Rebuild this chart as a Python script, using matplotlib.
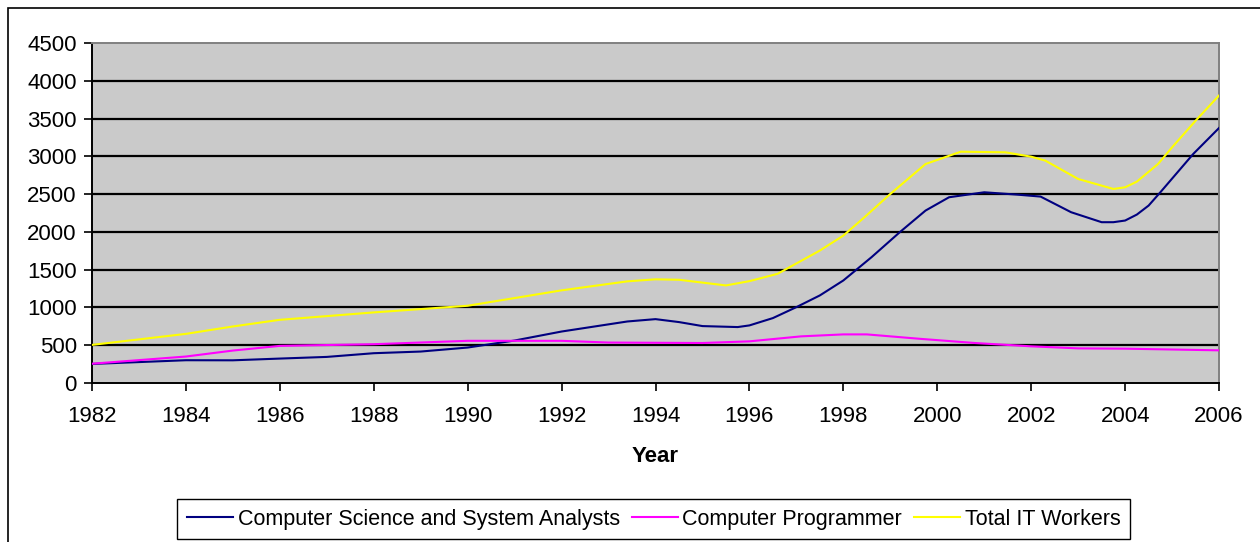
import matplotlib
matplotlib.use("Agg")
import matplotlib.pyplot as plt
from matplotlib.patches import Rectangle

# ---------------------------------------------------------------------------
# Data
# ---------------------------------------------------------------------------
analyst_years = [1982, 1984, 1985, 1986, 1987, 1988, 1989, 1990, 1991, 1992,
                 1993.4, 1994, 1994.5, 1995, 1995.75, 1996, 1996.5, 1997,
                 1997.5, 1998, 1998.6, 1999.2, 1999.75, 2000.25, 2001,
                 2001.7, 2002.2, 2002.85, 2003.5, 2003.75, 2004, 2004.25,
                 2004.5, 2004.75, 2005.45, 2006]
analyst_vals = [252, 301, 300, 323, 345, 394, 416, 469, 562, 681,
                814, 845, 806, 753, 740, 762, 859, 1004,
                1159, 1357, 1665, 1995, 2282, 2458, 2524,
                2493, 2467, 2260, 2128, 2128, 2150, 2229,
                2348, 2524, 3031, 3375]

programmer_years = [1982, 1984, 1985, 1986, 1988, 1990, 1992, 1993, 1994,
                    1995, 1996, 1997.1, 1998, 1998.5, 1999.6, 2000.8, 2002,
                    2003, 2004, 2006]
programmer_vals = [255, 350, 429, 491, 513, 558, 558, 535, 532,
                   529, 551, 617, 643, 643, 586, 529, 485,
                   458, 454, 432]

total_years = [1982, 1984, 1985, 1986, 1988, 1990, 1991, 1992, 1993.4, 1994,
               1994.5, 1995.5, 1996, 1996.6, 1997.5, 1998, 1998.45, 1999,
               1999.75, 2000.5, 2001.45, 2002, 2002.3, 2003, 2003.75, 2004,
               2004.25, 2004.7, 2005, 2005.5, 2006]
total_vals = [504, 650, 748, 836, 934, 1022, 1124, 1226, 1345, 1372,
              1366, 1291, 1348, 1445, 1753, 1951, 2194, 2502,
              2898, 3061, 3053, 2995, 2943, 2700, 2568, 2590,
              2665, 2898, 3119, 3471, 3805]

series_labels = ["Computer Science and System Analysts",
                 "Computer Programmer",
                 "Total IT Workers"]
x_ticks = list(range(1982, 2007, 2))
y_ticks = list(range(0, 4501, 500))

TICK_SIZE = 16
LEGEND_SIZE = 15.5

# ---------------------------------------------------------------------------
# Figure
# ---------------------------------------------------------------------------
plt.rcParams["font.family"] = ["Liberation Sans", "DejaVu Sans"]

fig = plt.figure(figsize=(12.6, 5.42), dpi=100)
ax = fig.add_axes([0.073, 0.2934, 0.8945, 0.6273])
ax.set_facecolor("#CACACA")

# outer chart frame (only left + top edges fall inside the image)
fig.patches.append(Rectangle((8 / 1260, -0.05), 1.2, 1 - 8 / 542 + 0.05,
                             transform=fig.transFigure, fill=False,
                             edgecolor="black", lw=1.2))

for yv in y_ticks[1:-1]:
    ax.axhline(yv, color="black", lw=1.6, zorder=1)

ax.plot(analyst_years, analyst_vals, color="#000080", lw=1.5,
        label=series_labels[0], zorder=3)
ax.plot(programmer_years, programmer_vals, color="#FF00FF", lw=1.5,
        label=series_labels[1], zorder=3)
ax.plot(total_years, total_vals, color="#FFFF00", lw=1.5,
        label=series_labels[2], zorder=3)

ax.set_xlim(1982, 2006)
ax.set_ylim(0, 4500)
ax.set_xticks(x_ticks)
ax.set_yticks(y_ticks)
ax.tick_params(axis="both", direction="out", length=6, width=1.2,
               labelsize=TICK_SIZE, color="black")
ax.tick_params(axis="x", pad=10.5)
ax.tick_params(axis="y", pad=5)

for side in ("left", "bottom"):
    ax.spines[side].set_color("black")
    ax.spines[side].set_linewidth(1.4)
for side in ("top", "right"):
    ax.spines[side].set_color("#808080")
    ax.spines[side].set_linewidth(1.4)

ax.set_xlabel("Year", fontsize=TICK_SIZE, fontweight="bold", labelpad=14)

leg = fig.legend(loc="center", bbox_to_anchor=(0.5188, 0.0424), ncol=3,
                 fontsize=LEGEND_SIZE, frameon=True, fancybox=False,
                 framealpha=1, edgecolor="black", handlelength=2.14,
                 handletextpad=0.21, columnspacing=0.56, borderpad=0.45)
leg.get_frame().set_linewidth(1.0)

fig.savefig("out.png", dpi=100)
